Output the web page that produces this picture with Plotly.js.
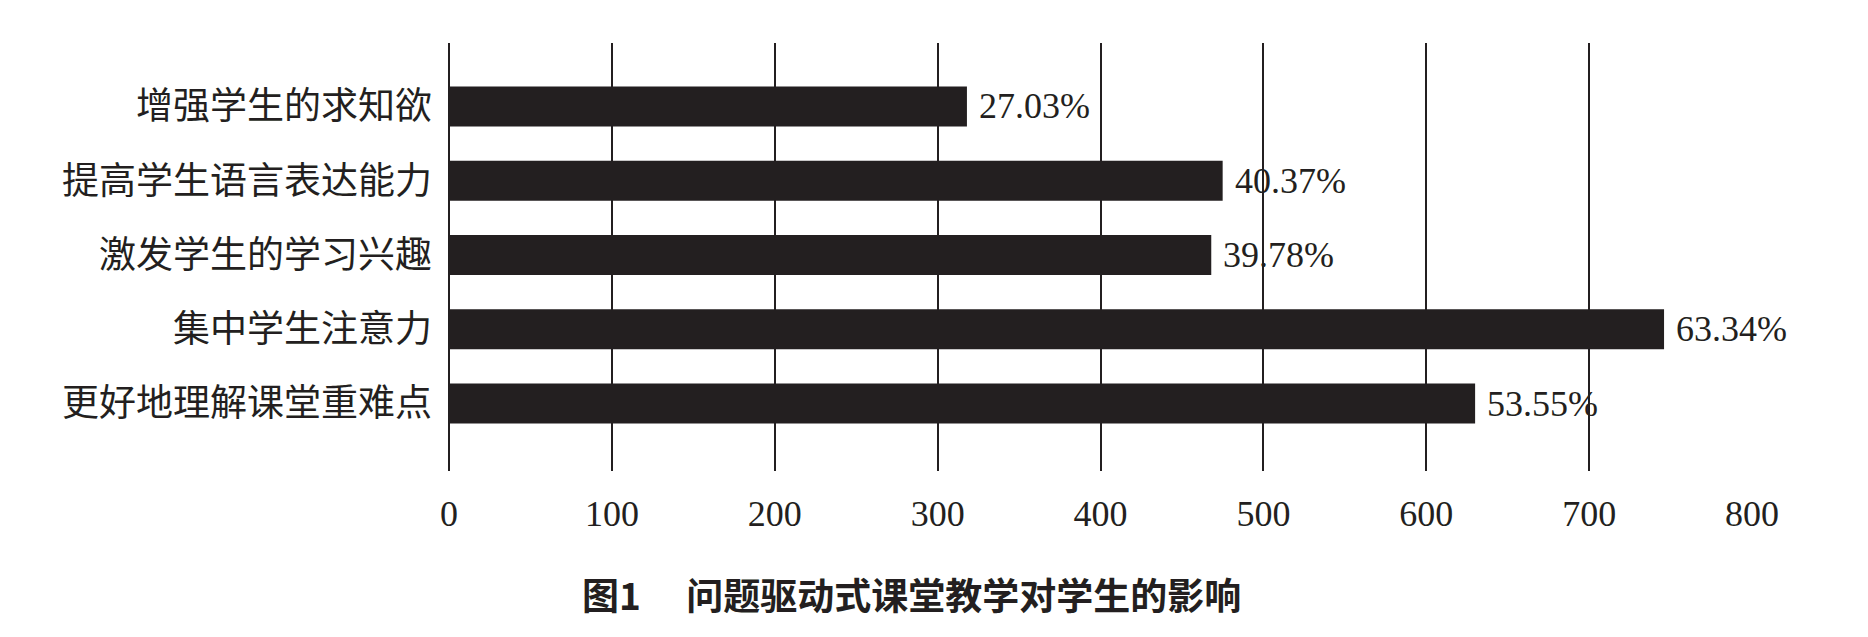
<!DOCTYPE html>
<html>
<head>
<meta charset="utf-8">
<script src="https://cdn.plot.ly/plotly-3.0.1.min.js"></script>
<style>html,body{margin:0;padding:0;background:#fff;}#chart{width:1868px;height:637px;}</style>
</head>
<body>
<div id="chart"></div>
<script>
const categories = ["增强学生的求知欲", "提高学生语言表达能力", "激发学生的学习兴趣", "集中学生注意力", "更好地理解课堂重难点"];
const counts = [318, 475, 468, 746, 630];
const percentLabels = ["27.03%", "40.37%", "39.78%", "63.34%", "53.55%"];
const xTickValues = [0, 100, 200, 300, 400, 500, 600, 700, 800];
const captionText = "图1\u3000 问题驱动式课堂教学对学生的影响";

const ink = "#231f20";
const serif = "'Liberation Serif', 'Times New Roman', serif";
const cjk = "'Noto Sans CJK SC', sans-serif";

const trace = {
  type: "bar",
  orientation: "h",
  x: counts,
  y: categories,
  marker: {color: ink, line: {width: 0}},
  width: 0.54,
  hoverinfo: "skip"
};

const annotations = counts.map((v, i) => ({
  x: v, y: categories[i], xref: "x", yref: "y",
  text: percentLabels[i], showarrow: false,
  xanchor: "left", yanchor: "middle", xshift: 10,
  font: {family: serif, size: 36, color: ink}
}));

const layout = {
  width: 1868, height: 637,
  paper_bgcolor: "#fff", plot_bgcolor: "#fff",
  margin: {l: 449, r: 116, t: 43, b: 166, pad: 0},
  showlegend: false,
  bargap: 0.46,
  title: {
    text: captionText,
    font: {family: cjk, size: 37, color: ink, weight: 700},
    x: 0.488, xanchor: "center", xref: "container",
    y: 0.063, yanchor: "middle", yref: "container"
  },
  xaxis: {
    range: [0, 800],
    tickvals: xTickValues,
    ticktext: xTickValues.map(String),
    showgrid: true, gridcolor: ink, gridwidth: 2,
    zeroline: true, zerolinecolor: ink, zerolinewidth: 2,
    showline: false, ticks: "",
    ticklabelstandoff: 18,
    tickfont: {family: serif, size: 36, color: ink},
    fixedrange: true
  },
  yaxis: {
    type: "category",
    categoryorder: "array", categoryarray: categories,
    range: [4.909, -0.855],
    showgrid: false, zeroline: false, showline: false, ticks: "",
    ticklabelstandoff: 16,
    tickfont: {family: cjk, size: 37, color: ink},
    fixedrange: true
  },
  annotations: annotations
};

Plotly.newPlot("chart", [trace], layout, {displayModeBar: false, staticPlot: true});
</script>
</body>
</html>
